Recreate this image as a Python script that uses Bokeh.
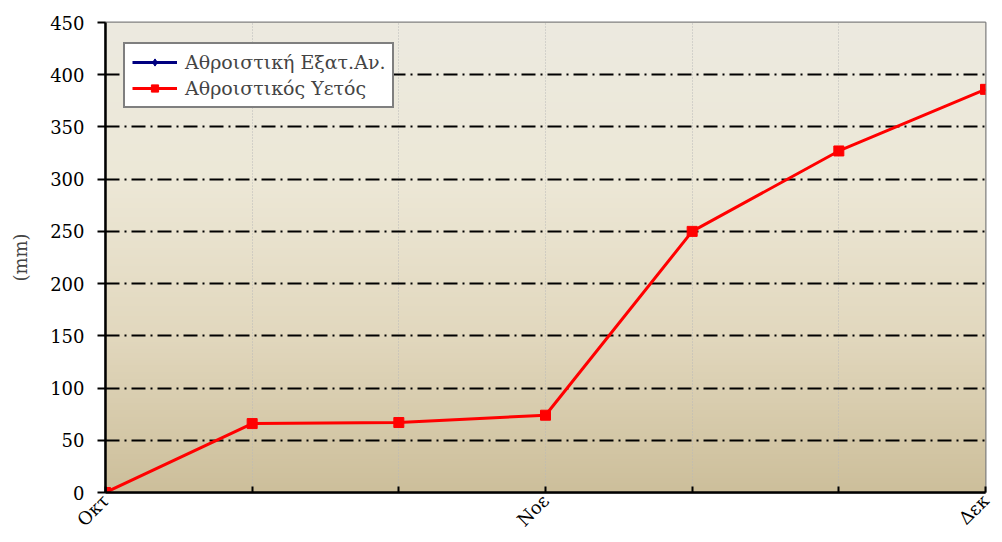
import numpy as np
from bokeh.plotting import figure
from bokeh.models import FixedTicker, Legend, LegendItem, Range1d
from bokeh.embed import file_html
from bokeh.resources import INLINE

months = ["Οκτ", "", "", "Νοε", "", "", "Δεκ"]
x_idx = [0, 1, 2, 3, 4, 5, 6]
rain_cum = [0, 66, 67, 74, 250, 327, 386]
evap_x = [0]
evap_cum = [0]
y_ticks = [0, 50, 100, 150, 200, 250, 300, 350, 400, 450]

FONT = "DejaVu Serif"

p = figure(width=1000, height=540, output_backend="svg", toolbar_location=None,
           x_range=Range1d(0, 6), y_range=Range1d(0, 450),
           min_border_left=105, min_border_right=15, min_border_top=22, min_border_bottom=48)
p.background_fill_color = "white"
p.border_fill_color = "white"
p.outline_line_color = "#808080"
p.outline_line_width = 2

# vertical gradient background
ys = np.linspace(0, 450, 200)
stops_y = [0, 150, 300, 450]
stops_c = np.array([[205, 191, 155], [226, 216, 190], [237, 232, 215], [236, 234, 224]])
r = np.interp(ys, stops_y, stops_c[:, 0])
g = np.interp(ys, stops_y, stops_c[:, 1])
b = np.interp(ys, stops_y, stops_c[:, 2])
img = np.empty((200, 1), dtype=np.uint32)
view = img.view(dtype=np.uint8).reshape((200, 1, 4))
view[:, 0, 0] = r.astype(np.uint8)
view[:, 0, 1] = g.astype(np.uint8)
view[:, 0, 2] = b.astype(np.uint8)
view[:, 0, 3] = 255
p.image_rgba(image=[img], x=0, y=0, dw=6, dh=450, level="image")

# axes
p.xaxis.ticker = FixedTicker(ticks=x_idx)
p.xaxis.major_label_overrides = {i: m for i, m in zip(x_idx, months)}
p.xaxis.major_label_orientation = np.pi / 4
p.xaxis.major_tick_in = 6
p.xaxis.major_tick_out = 0
p.xaxis.minor_tick_line_color = None
p.xaxis.axis_line_width = 2.5
p.xaxis.major_tick_line_width = 2
p.xaxis.major_label_text_font = FONT
p.xaxis.major_label_text_font_size = "18px"
p.xaxis.major_label_text_color = "black"
p.xaxis.major_label_standoff = 5

p.yaxis.ticker = FixedTicker(ticks=y_ticks)
p.yaxis.major_tick_out = 8
p.yaxis.major_tick_in = 0
p.yaxis.minor_tick_line_color = None
p.yaxis.axis_line_width = 2.5
p.yaxis.major_tick_line_width = 2
p.yaxis.major_label_text_font = FONT
p.yaxis.major_label_text_font_size = "18px"
p.yaxis.major_label_text_color = "black"
p.yaxis.major_label_standoff = 13
p.yaxis.axis_label = "(mm)"
p.yaxis.axis_label_text_font = FONT
p.yaxis.axis_label_text_font_size = "18px"
p.yaxis.axis_label_text_font_style = "normal"
p.yaxis.axis_label_standoff = 16

# grids
p.xgrid.ticker = FixedTicker(ticks=x_idx)
p.xgrid.grid_line_color = "#B8B8B8"
p.xgrid.grid_line_dash = "1 2"
p.xgrid.grid_line_width = 1
p.ygrid.ticker = FixedTicker(ticks=y_ticks[1:-1])
p.ygrid.grid_line_color = "black"
p.ygrid.grid_line_dash = "14 5 2 5"
p.ygrid.grid_line_width = 2

# series
l1 = p.line(evap_x, evap_cum, line_color="#000080", line_width=3)
m1 = p.scatter(evap_x, evap_cum, marker="diamond", size=12, fill_color="#000080", line_color="#000080")
l2 = p.line(x_idx, rain_cum, line_color="#FF0000", line_width=3)
m2 = p.scatter(x_idx, rain_cum, marker="square", size=10, fill_color="#FF0000", line_color="#FF0000")

legend = Legend(items=[LegendItem(label="Αθροιστική Εξατ.Αν.", renderers=[l1, m1]),
                       LegendItem(label="Αθροιστικός Υετός", renderers=[l2, m2])],
                location=(18, 384))
legend.label_text_font = FONT
legend.label_text_font_size = "19px"
legend.border_line_color = "black"
legend.border_line_width = 2
legend.background_fill_color = "white"
legend.background_fill_alpha = 1
legend.glyph_width = 45
legend.glyph_height = 18
legend.label_standoff = 8
legend.label_height = 18
legend.padding = 7
legend.spacing = 4
legend.margin = 0
p.add_layout(legend)

open("out.html", "w").write(file_html(p, INLINE))
